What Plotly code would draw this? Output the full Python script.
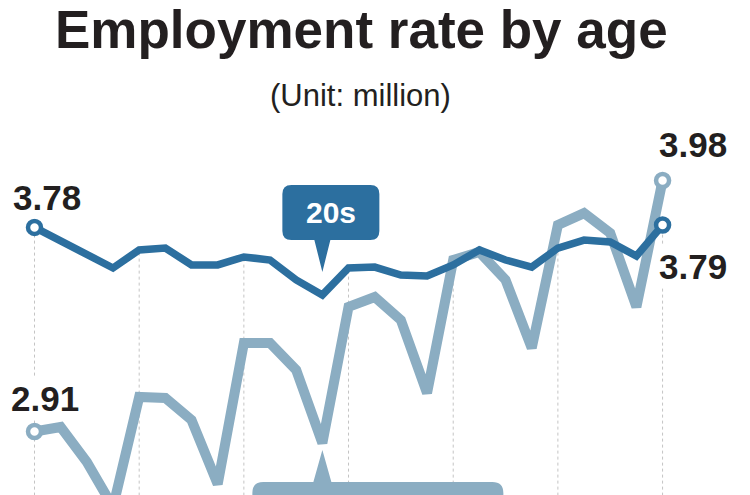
import plotly.graph_objects as go

# ---------------- data ----------------
quarters = [
    "2013 Q1", "2013 Q2", "2013 Q3", "2013 Q4",
    "2014 Q1", "2014 Q2", "2014 Q3", "2014 Q4",
    "2015 Q1", "2015 Q2", "2015 Q3", "2015 Q4",
    "2016 Q1", "2016 Q2", "2016 Q3", "2016 Q4",
    "2017 Q1", "2017 Q2", "2017 Q3", "2017 Q4",
    "2018 Q1", "2018 Q2", "2018 Q3", "2018 Q4",
    "2019 Q1",
]
twenties = [3.78, 3.722, 3.662, 3.607, 3.684, 3.692, 3.620, 3.620,
            3.654, 3.641, 3.556, 3.492, 3.607, 3.611, 3.577, 3.573,
            3.620, 3.684, 3.641, 3.611, 3.692, 3.726, 3.718, 3.658, 3.79]
sixties_plus = [2.91, 2.929, 2.780, 2.588, 3.057, 3.053, 2.959, 2.686,
                3.287, 3.287, 3.172, 2.861, 3.441, 3.483, 3.385, 3.074,
                3.641, 3.675, 3.556, 3.266, 3.790, 3.841, 3.756, 3.441, 3.98]
callout_label = "20s"
title_text = "Employment rate by age"
unit_text = "(Unit: million)"

# ---------------- style ----------------
W, H = 750, 495
DARK = "#2c6f9f"
LIGHT = "#8badc2"
INK = "#231f20"
FONT = "Liberation Sans, Arial, sans-serif"
XR = [-1.3183, 27.341]
YR = [2.6393, 4.7493]


def xpx(i):
    return (i - XR[0]) / (XR[1] - XR[0]) * W


def ypx(v):
    return (YR[1] - v) / (YR[1] - YR[0]) * H


def P(px, py):
    return f"{px / W:.5f},{1 - py / H:.5f}"


def callout_path(left, top, right, bottom, tipx, tipy, half, r, down=True):
    parts = [f"M {P(left + r, top)}"]
    if not down:
        parts += [f"L {P(tipx - half, top)}", f"L {P(tipx, tipy)}", f"L {P(tipx + half, top)}"]
    parts += [f"L {P(right - r, top)}", f"Q {P(right, top)} {P(right, top + r)}",
              f"L {P(right, bottom - r)}", f"Q {P(right, bottom)} {P(right - r, bottom)}"]
    if down:
        parts += [f"L {P(tipx + half, bottom)}", f"L {P(tipx, tipy)}", f"L {P(tipx - half, bottom)}"]
    parts += [f"L {P(left + r, bottom)}", f"Q {P(left, bottom)} {P(left, bottom - r)}",
              f"L {P(left, top + r)}", f"Q {P(left, top)} {P(left + r, top)}", "Z"]
    return " ".join(parts)


idx = list(range(len(quarters)))
n = len(quarters)

fig = go.Figure()
fig.add_trace(go.Scatter(x=idx, y=sixties_plus, mode="lines",
                         line=dict(color=LIGHT, width=10), hoverinfo="skip"))
fig.add_trace(go.Scatter(x=idx, y=twenties, mode="lines",
                         line=dict(color=DARK, width=7.5), hoverinfo="skip"))
fig.add_trace(go.Scatter(x=[idx[0], idx[-1]], y=[sixties_plus[0], sixties_plus[-1]], mode="markers",
                         marker=dict(size=13, color="white", line=dict(color=LIGHT, width=4.5)),
                         hoverinfo="skip"))
fig.add_trace(go.Scatter(x=[idx[0], idx[-1]], y=[twenties[0], twenties[-1]], mode="markers",
                         marker=dict(size=13, color="white", line=dict(color=DARK, width=4.5)),
                         hoverinfo="skip"))

shapes = []
# dotted vertical guides each year
for i in range(0, n, 4):
    shapes.append(dict(type="line", xref="x", yref="y", x0=i, x1=i,
                       y0=YR[0] - 1, y1=twenties[i], layer="below",
                       line=dict(color="#c4c4c4", width=1, dash="dot")))

# callouts at the lowest 20s point
k = twenties.index(min(twenties))
tx = xpx(k)
ty = ypx(twenties[k]) - 23
left, right, top, bottom = tx - 40, tx + 57, ty - 87, ty - 32
shapes.append(dict(type="path", xref="paper", yref="paper",
                   path=callout_path(left, top, right, bottom, tx, ty, 8, 9, down=True),
                   fillcolor=DARK, line=dict(width=0)))
ltx = xpx(k)
lty = ypx(sixties_plus[k]) + 7
shapes.append(dict(type="path", xref="paper", yref="paper",
                   path=callout_path(ltx - 70, lty + 32, ltx + 181, lty + 90, ltx, lty, 9, 11, down=False),
                   fillcolor=LIGHT, line=dict(width=0)))

annotations = [
    dict(text=f"<b>{title_text}</b>", xref="paper", yref="paper", x=361 / W, y=1 - 29 / H,
         xanchor="center", yanchor="middle", showarrow=False,
         font=dict(family=FONT, size=53, color=INK)),
    dict(text=unit_text, xref="paper", yref="paper", x=360 / W, y=1 - 95 / H,
         xanchor="center", yanchor="middle", showarrow=False,
         font=dict(family=FONT, size=31, color=INK)),
    dict(text=f"<b>{callout_label}</b>", xref="paper", yref="paper",
         x=((left + right) / 2) / W, y=1 - ((top + bottom) / 2) / H,
         xanchor="center", yanchor="middle", showarrow=False,
         font=dict(family=FONT, size=30, color="white")),
    dict(text=f"<b>{twenties[0]:.2f}</b>", x=idx[0], y=twenties[0], xshift=12.5, yshift=30,
         xanchor="center", yanchor="middle", showarrow=False, bgcolor="white",
         font=dict(family=FONT, size=35, color=INK)),
    dict(text=f"<b>{sixties_plus[0]:.2f}</b>", x=idx[0], y=sixties_plus[0], xshift=10.5, yshift=32.5,
         xanchor="center", yanchor="middle", showarrow=False, bgcolor="white",
         font=dict(family=FONT, size=35, color=INK)),
    dict(text=f"<b>{sixties_plus[-1]:.2f}</b>", x=idx[-1], y=sixties_plus[-1], xshift=30.5, yshift=35.5,
         xanchor="center", yanchor="middle", showarrow=False,
         font=dict(family=FONT, size=35, color=INK)),
    dict(text=f"<b>{twenties[-1]:.2f}</b>", x=idx[-1], y=twenties[-1], xshift=30.5, yshift=-41,
         xanchor="center", yanchor="middle", showarrow=False, bgcolor="white",
         font=dict(family=FONT, size=35, color=INK)),
]

fig.update_layout(
    width=W, height=H,
    margin=dict(l=0, r=0, t=0, b=0, pad=0),
    paper_bgcolor="white", plot_bgcolor="white",
    showlegend=False,
    xaxis=dict(range=XR, visible=False, fixedrange=True),
    yaxis=dict(range=YR, visible=False, fixedrange=True),
    shapes=shapes,
    annotations=annotations,
)

fig.write_html("out.html", config={"displayModeBar": False})
